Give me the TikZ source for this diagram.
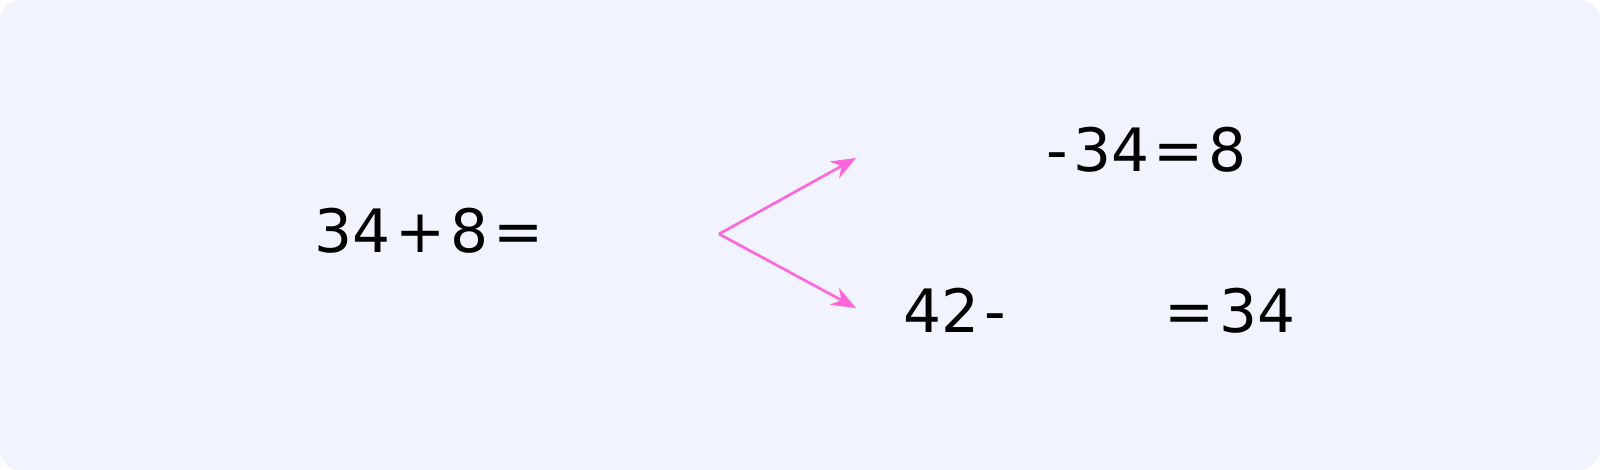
\documentclass[tikz,border=0pt]{standalone}
\usepackage{fontspec}
\setmainfont{DejaVu Sans}
\usetikzlibrary{positioning, arrows.meta}
\definecolor{bgcol}{RGB}{241,244,254}
\definecolor{arrowpink}{RGB}{255,102,221}
\newcommand{\eqfont}{\fontsize{17}{20}\selectfont\spaceskip 0.08em\relax}
\tikzset{
  eqtext/.style={font=\eqfont, inner sep=0pt, text=black, anchor=base west},
  fork/.style={draw=arrowpink, line width=0.75pt, -{Stealth[length=7pt, width=5.5pt]}}
}

\begin{document}
\begin{tikzpicture}[x=0.01cm, y=-0.01cm]

    % --- Background card ---
    \fill[bgcol, rounded corners=0.2cm] (0, 0) rectangle (1600, 470);
    \useasboundingbox (0, 0) rectangle (1600, 470);

    % --- Starting sum ---
    \node[eqtext] (sum) at (314, 252) {34 + 8 =};

    % --- Fork arrows ---
    \coordinate (fork) at (719, 234);
    \coordinate (uptip) at (856, 158);
    \coordinate (downtip) at (856, 308);
    \draw[fork] (fork) -- (uptip);
    \draw[fork] (fork) -- (downtip);

    % --- Top related fact ---
    \node[eqtext] (topeq) at (1046, 172) {- 34 = 8};

    % --- Bottom related fact ---
    \node[eqtext] (botleft) at (903, 332) {42 -};
    \node[eqtext] (botright) at (1164, 332) {= 34};

\end{tikzpicture}
\end{document}
